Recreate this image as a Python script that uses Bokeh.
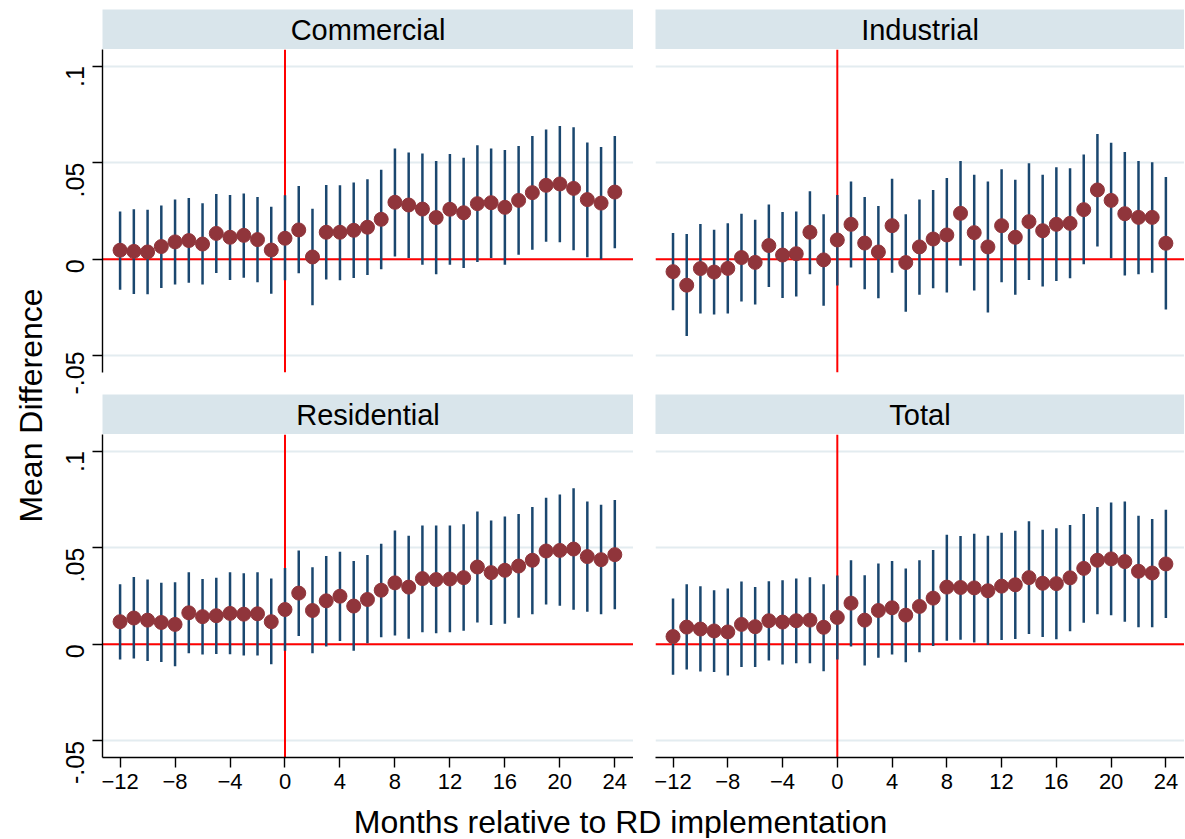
import math
from bokeh.plotting import figure
from bokeh.models import (ColumnDataSource, Range1d, FixedTicker, Span, Label)
from bokeh.layouts import row, column
from bokeh.embed import file_html
from bokeh.resources import INLINE

# ---------------- data ----------------
months = list(range(-12, 25))

panel_titles = ["Commercial", "Industrial", "Residential", "Total"]

com_est = [0.0047, 0.0041, 0.0038, 0.0066, 0.0090, 0.0097, 0.0079, 0.0134, 0.0114, 0.0124, 0.0102, 0.0048, 0.0109,
           0.0152, 0.0012, 0.0140, 0.0140, 0.0150, 0.0166, 0.0207, 0.0295, 0.0281, 0.0260, 0.0216, 0.0259, 0.0241,
           0.0288, 0.0293, 0.0269, 0.0305, 0.0345, 0.0383, 0.0390, 0.0367, 0.0309, 0.0291, 0.0348]
com_hi = [0.0248, 0.0259, 0.0257, 0.0279, 0.0309, 0.0317, 0.0290, 0.0338, 0.0333, 0.0341, 0.0322, 0.0272, 0.0331,
          0.0379, 0.0262, 0.0384, 0.0383, 0.0398, 0.0414, 0.0464, 0.0574, 0.0553, 0.0548, 0.0509, 0.0545, 0.0526,
          0.0590, 0.0574, 0.0566, 0.0586, 0.0638, 0.0672, 0.0690, 0.0684, 0.0605, 0.0581, 0.0638]
com_lo = [-0.0157, -0.0179, -0.0181, -0.0148, -0.0131, -0.0122, -0.0131, -0.0071, -0.0107, -0.0095, -0.0119, -0.0178,
          -0.0109, -0.0072, -0.0238, -0.0105, -0.0109, -0.0097, -0.0081, -0.0052, 0.0014, 0.0007, -0.0028, -0.0078,
          -0.0028, -0.0045, -0.0014, 0.0007, -0.0028, 0.0024, 0.0050, 0.0091, 0.0088, 0.0047, 0.0010, 0.0000, 0.0057]

ind_est = [-0.0064, -0.0134, -0.0048, -0.0066, -0.0047, 0.0009, -0.0016, 0.0071, 0.0022, 0.0029, 0.0140, -0.0003,
           0.0100, 0.0181, 0.0084, 0.0038, 0.0174, -0.0017, 0.0064, 0.0105, 0.0126, 0.0238, 0.0138, 0.0064, 0.0174,
           0.0114, 0.0195, 0.0148, 0.0181, 0.0186, 0.0257, 0.0359, 0.0305, 0.0236, 0.0217, 0.0217, 0.0083]
ind_hi = [0.0136, 0.0131, 0.0183, 0.0153, 0.0186, 0.0236, 0.0205, 0.0284, 0.0245, 0.0248, 0.0352, 0.0233, 0.0333,
          0.0403, 0.0322, 0.0276, 0.0417, 0.0233, 0.0310, 0.0359, 0.0421, 0.0509, 0.0438, 0.0403, 0.0466, 0.0412,
          0.0497, 0.0438, 0.0476, 0.0471, 0.0543, 0.0648, 0.0603, 0.0555, 0.0509, 0.0502, 0.0426]
ind_lo = [-0.0264, -0.0397, -0.0281, -0.0286, -0.0281, -0.0219, -0.0234, -0.0143, -0.0200, -0.0193, -0.0078, -0.0241,
          -0.0136, -0.0043, -0.0155, -0.0202, -0.0069, -0.0271, -0.0184, -0.0150, -0.0172, -0.0034, -0.0162, -0.0276,
          -0.0119, -0.0183, -0.0107, -0.0141, -0.0112, -0.0098, -0.0026, 0.0066, 0.0005, -0.0084, -0.0078, -0.0069,
          -0.0260]

res_est = [0.0117, 0.0136, 0.0125, 0.0113, 0.0103, 0.0163, 0.0143, 0.0148, 0.0160, 0.0156, 0.0158, 0.0117, 0.0180,
           0.0265, 0.0175, 0.0225, 0.0249, 0.0198, 0.0232, 0.0280, 0.0318, 0.0296, 0.0340, 0.0335, 0.0338, 0.0345,
           0.0400, 0.0371, 0.0383, 0.0405, 0.0435, 0.0483, 0.0486, 0.0493, 0.0454, 0.0438, 0.0464]
res_hi = [0.0311, 0.0349, 0.0335, 0.0318, 0.0321, 0.0373, 0.0338, 0.0345, 0.0373, 0.0368, 0.0373, 0.0340, 0.0395,
          0.0485, 0.0399, 0.0457, 0.0479, 0.0431, 0.0462, 0.0521, 0.0589, 0.0562, 0.0615, 0.0615, 0.0615, 0.0622,
          0.0687, 0.0641, 0.0662, 0.0675, 0.0711, 0.0759, 0.0775, 0.0808, 0.0739, 0.0722, 0.0747]
res_lo = [-0.0079, -0.0074, -0.0086, -0.0091, -0.0113, -0.0046, -0.0053, -0.0050, -0.0052, -0.0058, -0.0058, -0.0103,
          -0.0033, 0.0043, -0.0046, -0.0012, 0.0017, -0.0034, 0.0005, 0.0036, 0.0046, 0.0029, 0.0062, 0.0057, 0.0062,
          0.0070, 0.0113, 0.0100, 0.0107, 0.0137, 0.0155, 0.0206, 0.0199, 0.0179, 0.0168, 0.0155, 0.0182]

tot_est = [0.0040, 0.0089, 0.0079, 0.0069, 0.0064, 0.0103, 0.0091, 0.0122, 0.0115, 0.0122, 0.0125, 0.0088, 0.0139,
           0.0213, 0.0125, 0.0175, 0.0189, 0.0151, 0.0196, 0.0239, 0.0296, 0.0294, 0.0292, 0.0277, 0.0301, 0.0308,
           0.0345, 0.0316, 0.0314, 0.0344, 0.0393, 0.0435, 0.0442, 0.0428, 0.0378, 0.0369, 0.0416]
tot_hi = [0.0237, 0.0311, 0.0301, 0.0280, 0.0289, 0.0325, 0.0297, 0.0326, 0.0332, 0.0340, 0.0347, 0.0311, 0.0356,
          0.0435, 0.0357, 0.0418, 0.0431, 0.0393, 0.0435, 0.0488, 0.0567, 0.0560, 0.0572, 0.0562, 0.0577, 0.0588,
          0.0637, 0.0593, 0.0601, 0.0617, 0.0675, 0.0711, 0.0734, 0.0739, 0.0665, 0.0649, 0.0696]
tot_lo = [-0.0158, -0.0131, -0.0141, -0.0144, -0.0162, -0.0117, -0.0117, -0.0084, -0.0105, -0.0098, -0.0098, -0.0139,
          -0.0079, -0.0012, -0.0110, -0.0069, -0.0053, -0.0093, -0.0041, -0.0009, 0.0019, 0.0024, 0.0009, -0.0003,
          0.0022, 0.0027, 0.0053, 0.0038, 0.0026, 0.0067, 0.0112, 0.0155, 0.0151, 0.0117, 0.0088, 0.0088, 0.0136]

x_ticks = [-12, -8, -4, 0, 4, 8, 12, 16, 20, 24]
y_ticks = [-0.05, 0, 0.05, 0.1]
y_tick_labels = ["-.05", "0", ".05", ".1"]

y_title = "Mean Difference"
x_title = "Months relative to RD implementation"

# ---------------- style ----------------
FONT = "Liberation Sans"
NAVY = "#1a476f"
MAROON = "#90353b"
STRIP = "#d9e5eb"
GRID = "#e3ecf0"

YLAB_W = 48
LEFT_B = 54
FRAME_W_L = 531
GAP = 22
FRAME_W_R = 529
FRAME_H = 323
STRIP_H = 40
TOP_PAD = 9
MID_GAP = 22
BOT_B = 39
TOTAL_H = 838


def make_strip(text, left_border, fw, top_pad):
    s = figure(frame_width=fw, frame_height=STRIP_H, x_range=Range1d(0, 1), y_range=Range1d(0, 1),
               min_border_left=left_border, min_border_right=0, min_border_top=top_pad, min_border_bottom=0,
               x_axis_location=None, y_axis_location=None, toolbar_location=None, output_backend="svg",
               background_fill_color=STRIP, border_fill_color="white", outline_line_color=None)
    s.grid.visible = False
    s.add_layout(Label(x=0.5, y=0.5, text=text, text_align="center", text_baseline="middle",
                       text_font=FONT, text_font_size="29px", text_color="black"))
    return s


def style_axis(ax, size):
    ax.major_label_text_font = FONT
    ax.major_label_text_font_size = size
    ax.major_label_text_color = "black"
    ax.major_tick_out = 10
    ax.major_tick_in = 0
    ax.minor_tick_line_color = None
    ax.axis_line_color = "black"
    ax.axis_line_width = 1.4
    ax.major_tick_line_width = 1.4
    ax.major_tick_line_color = "black"


def make_panel(est, lo, hi, left, bottom, fw):
    src = ColumnDataSource(dict(m=months, est=est, lo=lo, hi=hi))
    p = figure(frame_width=fw, frame_height=FRAME_H,
               x_range=Range1d(-13.28, 25.36), y_range=Range1d(-0.0586, 0.1086),
               min_border_left=LEFT_B if left else GAP, min_border_right=0, min_border_top=0,
               min_border_bottom=BOT_B if bottom else MID_GAP,
               x_axis_location="below" if bottom else None,
               y_axis_location="left" if left else None,
               toolbar_location=None, output_backend="svg",
               background_fill_color="white", border_fill_color="white", outline_line_color=None)
    p.xgrid.visible = False
    p.ygrid.ticker = FixedTicker(ticks=y_ticks)
    p.ygrid.grid_line_color = GRID
    p.ygrid.grid_line_width = 1.8

    if left:
        ax = p.yaxis[0]
        ax.ticker = FixedTicker(ticks=y_ticks)
        ax.major_label_overrides = {t: l for t, l in zip(y_ticks, y_tick_labels)}
        ax.major_label_orientation = math.pi / 2
        ax.major_label_standoff = 17
        style_axis(ax, "25px")
    if bottom:
        ax = p.xaxis[0]
        ax.ticker = FixedTicker(ticks=x_ticks)
        ax.major_label_standoff = 6
        style_axis(ax, "22px")

    p.add_layout(Span(location=0, dimension="width", line_color="red", line_width=2, level="underlay"))
    p.add_layout(Span(location=0, dimension="height", line_color="red", line_width=2, level="underlay"))

    p.segment(x0="m", y0="lo", x1="m", y1="hi", source=src, line_color=NAVY, line_width=2.5)
    p.scatter(x="m", y="est", source=src, size=14, fill_color=MAROON, line_color=MAROON, line_width=1)
    return p


p_com = make_panel(com_est, com_lo, com_hi, True, False, FRAME_W_L)
p_ind = make_panel(ind_est, ind_lo, ind_hi, False, False, FRAME_W_R)
p_res = make_panel(res_est, res_lo, res_hi, True, True, FRAME_W_L)
p_tot = make_panel(tot_est, tot_lo, tot_hi, False, True, FRAME_W_R)

s_com = make_strip(panel_titles[0], LEFT_B, FRAME_W_L, TOP_PAD)
s_ind = make_strip(panel_titles[1], GAP, FRAME_W_R, TOP_PAD)
s_res = make_strip(panel_titles[2], LEFT_B, FRAME_W_L, 0)
s_tot = make_strip(panel_titles[3], GAP, FRAME_W_R, 0)

inner_w = LEFT_B + FRAME_W_L + GAP + FRAME_W_R
top_h = TOP_PAD + STRIP_H + FRAME_H + MID_GAP
bot_h = STRIP_H + FRAME_H + BOT_B
xt_h = TOTAL_H - top_h - bot_h

# x title
xt = figure(frame_width=inner_w, frame_height=xt_h, x_range=Range1d(0, 1), y_range=Range1d(0, 1),
            min_border=0, x_axis_location=None, y_axis_location=None, toolbar_location=None,
            output_backend="svg", outline_line_color=None, background_fill_color="white",
            border_fill_color="white")
xt.grid.visible = False
xt.add_layout(Label(x=(620 - YLAB_W) / inner_w, y=(TOTAL_H - 821) / xt_h, text=x_title, text_align="center",
                    text_baseline="middle", text_font=FONT, text_font_size="32px", text_color="black"))

# y title
yt = figure(frame_width=YLAB_W, frame_height=TOTAL_H, x_range=Range1d(0, 1), y_range=Range1d(0, 1),
            min_border=0, x_axis_location=None, y_axis_location=None, toolbar_location=None,
            output_backend="svg", outline_line_color=None, background_fill_color="white",
            border_fill_color="white")
yt.grid.visible = False
yt.add_layout(Label(x=30 / YLAB_W, y=(TOTAL_H - 405) / TOTAL_H, text=y_title, text_align="center",
                    text_baseline="middle", angle=math.pi / 2, text_font=FONT, text_font_size="32px",
                    text_color="black"))

grid = column(
    row(column(s_com, p_com), column(s_ind, p_ind)),
    row(column(s_res, p_res), column(s_tot, p_tot)),
    xt,
)
layout = row(yt, grid)

open("out.html", "w").write(file_html(layout, INLINE))
